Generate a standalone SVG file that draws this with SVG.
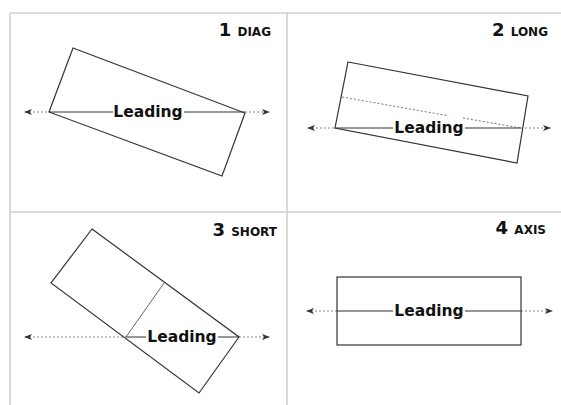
<svg xmlns="http://www.w3.org/2000/svg" width="561" height="405" viewBox="0 0 561 405">
<style>
.grid{stroke:#cfcfcf;stroke-width:1.5;fill:none}
.box{fill:none;stroke:#333;stroke-width:1.2}
.inner{fill:none;stroke:#666;stroke-width:1}
.dash{stroke:#888;stroke-width:1;stroke-dasharray:2,2;fill:none}
.lead{stroke:#333;stroke-width:1.2}
.lbl{font-family:"DejaVu Sans",Verdana,sans-serif;font-weight:bold;font-size:15.5px;fill:#111;text-anchor:middle}
.ttl{font-family:"DejaVu Sans",Verdana,sans-serif;font-weight:bold;font-size:18px;fill:#111;text-anchor:end}
.sc{font-size:12px}
.bg{fill:#fff}
</style>
<defs>
<marker id="ah" viewBox="0 0 8 6" refX="7" refY="3" markerWidth="8" markerHeight="6" orient="auto-start-reverse" markerUnits="userSpaceOnUse">
<path d="M0,0 L8,3 L0,6 L2,3 Z" fill="#333"/>
</marker>
</defs>
<g id="grid">
<line class="grid" x1="10" y1="13" x2="561" y2="13"/>
<line class="grid" x1="10" y1="13" x2="10" y2="405"/>
<line class="grid" x1="287" y1="13" x2="287" y2="405"/>
<line class="grid" x1="10" y1="212" x2="561" y2="212"/>
</g>
<g id="connectors">
<line class="dash" x1="25" y1="112" x2="49" y2="112" marker-start="url(#ah)"/>
<line class="dash" x1="245" y1="112" x2="269" y2="112" marker-end="url(#ah)"/>
<line class="dash" x1="308" y1="128" x2="335" y2="128" marker-start="url(#ah)"/>
<line class="dash" x1="521" y1="128" x2="550" y2="128" marker-end="url(#ah)"/>
<line class="dash" x1="25" y1="337" x2="126" y2="337" marker-start="url(#ah)"/>
<line class="dash" x1="239" y1="337" x2="269" y2="337" marker-end="url(#ah)"/>
<line class="dash" x1="307" y1="311" x2="337" y2="311" marker-start="url(#ah)"/>
<line class="dash" x1="521" y1="311" x2="552" y2="311" marker-end="url(#ah)"/>
</g>
<g id="panel1">
<text class="ttl" x="271" y="36">1 <tspan class="sc">DIAG</tspan></text>
<polygon class="box" points="73,48 245,113 222,176 49,112"/>
<line class="lead" x1="49" y1="112" x2="245" y2="112"/>
<rect class="bg" x="113" y="103" width="71" height="18"/>
<text class="lbl" x="148" y="117">Leading</text>
</g>
<g id="panel2">
<text class="ttl" x="548" y="36">2 <tspan class="sc">LONG</tspan></text>
<polygon class="box" points="348,62 528,96 517,163 335,128"/>
<line class="dash" x1="342" y1="97" x2="447" y2="115.5" style="stroke:#777"/>
<line class="dash" x1="463" y1="118" x2="521" y2="128" style="stroke:#777"/>
<line class="lead" x1="335" y1="128" x2="521" y2="128"/>
<rect class="bg" x="393" y="119" width="72" height="18"/>
<text class="lbl" x="429" y="133">Leading</text>
</g>
<g id="panel3">
<text class="ttl" x="277" y="236">3 <tspan class="sc">SHORT</tspan></text>
<polygon class="box" points="92,229 239,337 199,393 51,283"/>
<line class="inner" x1="164" y1="283" x2="126" y2="337"/>
<line class="lead" x1="126" y1="337" x2="239" y2="337"/>
<rect class="bg" x="146" y="328" width="72" height="18"/>
<text class="lbl" x="182" y="342">Leading</text>
</g>
<g id="panel4">
<text class="ttl" x="546" y="234">4 <tspan class="sc">AXIS</tspan></text>
<rect class="box" x="337" y="277" width="184" height="68"/>
<line class="lead" x1="337" y1="311" x2="521" y2="311"/>
<rect class="bg" x="393" y="302" width="72" height="18"/>
<text class="lbl" x="429" y="316">Leading</text>
</g>
</svg>
